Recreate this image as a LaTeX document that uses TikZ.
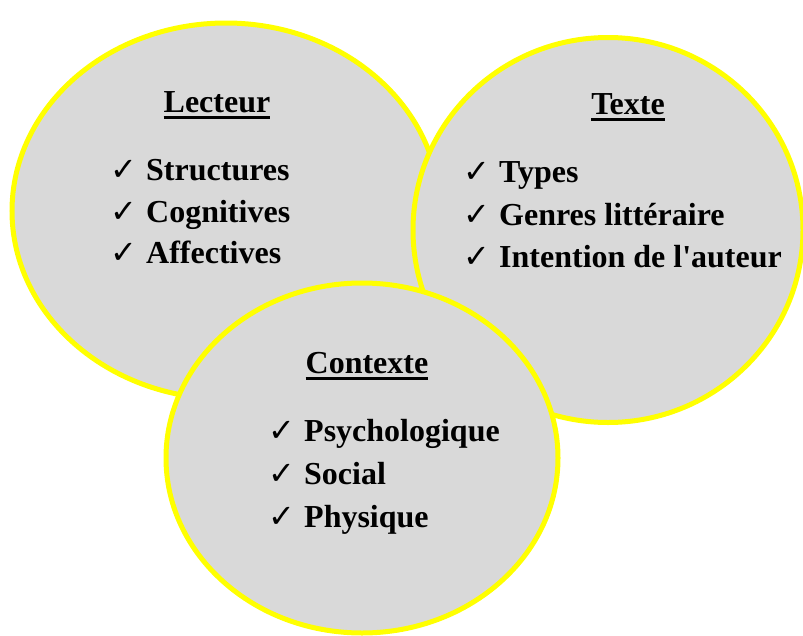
\documentclass[tikz,border=0pt]{standalone}
\usepackage{fontspec}
\setmainfont{Liberation Serif}[Ligatures=TeXOff]
\newfontfamily\symfont{DejaVu Sans}
\usetikzlibrary{shapes.geometric}
\definecolor{ringyellow}{HTML}{FFFF00}
\definecolor{bubblegrey}{HTML}{D9D9D9}
\newsavebox{\myulbox}
\newcommand{\myul}[1]{\sbox{\myulbox}{#1}\rlap{\rule[-7pt]{\wd\myulbox}{3.5pt}}\usebox{\myulbox}}
\newcommand{\chk}{\makebox[36pt][l]{\symfont\fontsize{32}{32}\selectfont ✓}}
\begin{document}
\begin{tikzpicture}[x=1pt,y=-1pt,
  bubble/.style={ellipse, draw=ringyellow, fill=bubblegrey, line width=5pt, inner sep=0pt, outer sep=0pt},
  heading/.style={anchor=base, font=\fontsize{32}{38}\selectfont\bfseries, inner sep=0pt},
  item/.style={anchor=base west, font=\fontsize{32}{38}\selectfont\bfseries, inner sep=0pt}]
\useasboundingbox (0,0) rectangle (803,635);
% bubbles
\node[bubble, minimum width=428pt, minimum height=376pt] (lect) at (226,211) {};
\node[bubble, minimum width=390pt, minimum height=385pt] (text) at (608,230) {};
\node[bubble, minimum width=392pt, minimum height=350pt] (ctx) at (362,458) {};
% Lecteur
\node[heading] (lecth) at (217,112) {\myul{Lecteur}};
\node[item] (lect1) at (110,180) {\chk Structures};
\node[item] (lect2) at (110,222) {\chk Cognitives};
\node[item] (lect3) at (110,263) {\chk Affectives};
% Texte
\node[heading] (texth) at (628,114) {\myul{Texte}};
\node[item] (text1) at (463,182) {\chk Types};
\node[item] (text2) at (463,225) {\chk Genres littéraire};
\node[item] (text3) at (463,267) {\chk Intention de l'auteur};
% Contexte
\node[heading] (ctxh) at (367,373) {\myul{Contexte}};
\node[item] (ctx1) at (268,441) {\chk Psychologique};
\node[item] (ctx2) at (268,484) {\chk Social};
\node[item] (ctx3) at (268,527) {\chk Physique};
\end{tikzpicture}
\end{document}
